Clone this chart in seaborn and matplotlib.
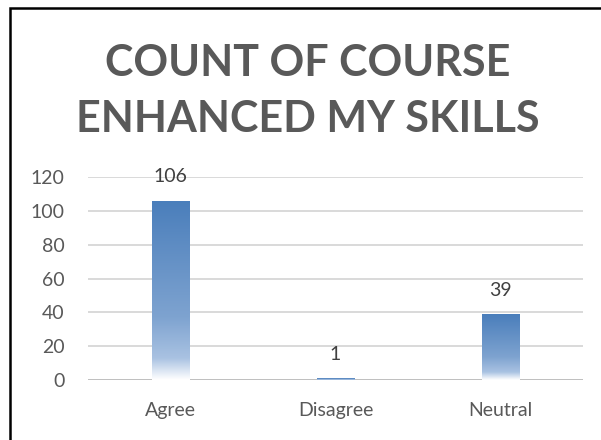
import numpy as np
import pandas as pd
import matplotlib
matplotlib.use("Agg")
import matplotlib.pyplot as plt
import seaborn as sns
from matplotlib.colors import LinearSegmentedColormap
from matplotlib.patches import Rectangle

# data
categories = ["Agree", "Disagree", "Neutral"]
counts = [106, 1, 39]
yticks = [0, 20, 40, 60, 80, 100, 120]
title = "COUNT OF COURSE\nENHANCED MY SKILLS"

sns.set_theme(style="white")
plt.rcParams["font.family"] = ["Lato", "DejaVu Sans"]

df = pd.DataFrame({"response": categories, "count": counts})

fig = plt.figure(figsize=(6.01, 4.40), dpi=100)
ax = fig.add_axes([88 / 601, 60 / 440, 495 / 601, 203 / 440])

sns.barplot(data=df, x="response", y="count", ax=ax, width=0.23,
            color="#4a7ebb", linewidth=0)

ax.set_ylim(0, 120)
ax.set_xlim(-0.5, 2.5)
ax.set_yticks(yticks)
ax.set_xlabel("")
ax.set_ylabel("")
for s in ax.spines.values():
    s.set_visible(False)
ax.tick_params(axis="both", length=0, labelsize=14, colors="#595959")
ax.tick_params(axis="y", pad=17)
ax.tick_params(axis="x", pad=16)
for t in yticks:
    ax.axhline(t, color="#bfbfbf" if t == 0 else "#d9d9d9", lw=1.4, zorder=0)

# gradient fill (Excel style): solid blue at top fading to white at the base
cmap = LinearSegmentedColormap.from_list(
    "fade", [(0.0, "#ffffff"), (0.12, "#a9c2e2"), (0.35, "#7ea3d0"), (1.0, "#4a7ebb")])
grad = np.linspace(0, 1, 256).reshape(-1, 1)
for bar in ax.patches:
    x0, w, h = bar.get_x(), bar.get_width(), bar.get_height()
    bar.set_visible(False)
    im = ax.imshow(grad, cmap=cmap, origin="lower", aspect="auto",
                   extent=[x0, x0 + w, 0, h], zorder=2)
    clip = Rectangle((x0, 0), w, h, transform=ax.transData)
    im.set_clip_path(clip)
ax.set_xlim(-0.5, 2.5)
ax.set_ylim(0, 120)

for i, v in enumerate(counts):
    ax.annotate(str(v), (i, v), xytext=(0, 11), textcoords="offset points",
                ha="center", va="bottom", fontsize=14, color="#404040")

fig.text(308 / 601, 1 - 91 / 440, title, ha="center", va="center", fontsize=31,
         fontweight="bold", color="#595959", linespacing=1.5)

# outer border (left and top visible)
fig.add_artist(Rectangle((10.5 / 601, -0.1), 1.2, 1.1 - 8 / 440,
                         transform=fig.transFigure, fill=False,
                         edgecolor="black", lw=1.8))

fig.savefig("out.png", dpi=100, facecolor="white")
